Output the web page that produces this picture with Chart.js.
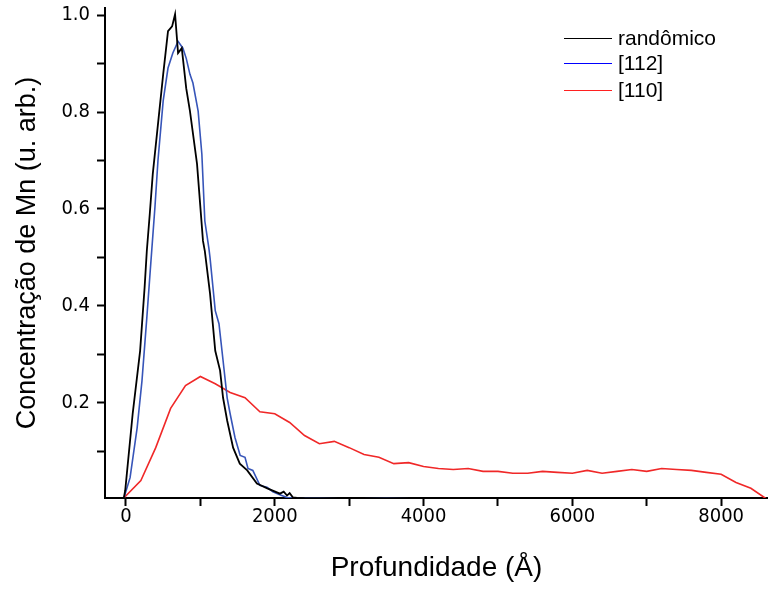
<!DOCTYPE html>
<html>
<head>
<meta charset="utf-8">
<style>
  body { margin: 0; background: #fff; }
  canvas { display: block; }
</style>
<script src="https://cdn.jsdelivr.net/npm/chart.js@4.4.0/dist/chart.umd.min.js"></script>
</head>
<body>
<canvas id="mnChart" width="768" height="590"></canvas>
<script>
// profundidade (Å) e concentração
const randomX = [-30, -10, 90, 190, 250, 280, 320, 360, 500, 565, 620, 660, 700, 750, 810, 860, 955, 1035, 1060, 1130,
  1200, 1265, 1305, 1360, 1440, 1530, 1630, 1760, 1900, 2070, 2120, 2165, 2200, 2245, 2300, 2400];
const randomY = [0.002, 0.019, 0.177, 0.307, 0.437, 0.513, 0.590, 0.672, 0.878, 0.967, 0.977, 1.002, 0.922, 0.932, 0.849, 0.802, 0.693, 0.534, 0.513, 0.425,
  0.307, 0.266, 0.210, 0.163, 0.107, 0.074, 0.060, 0.033, 0.023, 0.012, 0.016, 0.008, 0.013, 0.004, 0.003, 0.002];

const dir112X = [-30, 55, 150, 215, 280, 325, 390, 430, 500, 565, 630, 700, 765, 810, 860, 900, 970, 1020, 1060,
  1115, 1130, 1200, 1250, 1305, 1360, 1400, 1465, 1535, 1600, 1640, 1705, 1800, 1895, 1975, 2060, 2165, 2340, 2600, 3000,
  3500, 4000, 4400];
const dir112Y = [0.002, 0.045, 0.148, 0.245, 0.375, 0.470, 0.605, 0.700, 0.823, 0.891, 0.922, 0.946, 0.932, 0.911, 0.878, 0.860, 0.802, 0.713, 0.575,
  0.518, 0.499, 0.390, 0.363, 0.287, 0.210, 0.177, 0.128, 0.091, 0.087, 0.064, 0.060, 0.029, 0.025, 0.016, 0.010, 0.004, 0.002, 0.002, 0.001,
  0.002, 0.001, 0.001];

const dir110X = [-30, 200, 400, 600, 800, 1000, 1200, 1400, 1600, 1800, 2000, 2200, 2400, 2600, 2800, 3000, 3200, 3400, 3600, 3800,
  4000, 4200, 4400, 4600, 4800, 5000, 5200, 5400, 5600, 5800, 6000, 6200, 6400, 6600, 6800, 7000, 7200, 7400, 7600, 7800,
  8000, 8200, 8400, 8600];
const dir110Y = [0.003, 0.039, 0.107, 0.188, 0.235, 0.254, 0.239, 0.221, 0.210, 0.181, 0.177, 0.159, 0.132, 0.115, 0.120, 0.107, 0.093, 0.087, 0.074, 0.076,
  0.068, 0.064, 0.062, 0.064, 0.058, 0.058, 0.054, 0.054, 0.058, 0.056, 0.054, 0.060, 0.054, 0.058, 0.062, 0.058, 0.064, 0.062, 0.060, 0.056,
  0.052, 0.035, 0.023, 0.002];

const seriesLabels = ['randômico', '[112]', '[110]'];

// marcas dos eixos (só as de valor par levam rótulo)
const xTicks = [0, 1000, 2000, 3000, 4000, 5000, 6000, 7000, 8000];
const xTickLabels = ['0', '', '2000', '', '4000', '', '6000', '', '8000'];
const yTicks = [0.1, 0.2, 0.3, 0.4, 0.5, 0.6, 0.7, 0.8, 0.9, 1.0];
const yTickLabels = ['', '0.2', '', '0.4', '', '0.6', '', '0.8', '', '1.0'];

function toPoints(xs, ys) {
  return xs.map((x, i) => ({ x: x, y: ys[i] }));
}

const tickFont = { family: "'DejaVu Sans Condensed', 'DejaVu Sans', sans-serif", size: 20 };
const titleFont = { family: "'Liberation Sans', Arial, sans-serif", size: 27 };

// legenda desenhada no canto superior direito
const cornerLegend = {
  id: 'cornerLegend',
  afterDraw(chart) {
    const ctx = chart.ctx;
    const rows = [38, 63, 90];
    ctx.save();
    ctx.font = "21px 'Liberation Sans', Arial, sans-serif";
    ctx.textBaseline = 'middle';
    ctx.fillStyle = '#000';
    chart.data.datasets.forEach((ds, i) => {
      ctx.strokeStyle = ds.legendColor;
      ctx.lineWidth = 1;
      ctx.beginPath();
      ctx.moveTo(564, rows[i] + 0.5);
      ctx.lineTo(612, rows[i] + 0.5);
      ctx.stroke();
      ctx.fillText(ds.label, 618, rows[i] + 1);
    });
    ctx.restore();
  }
};

const ctx = document.getElementById('mnChart').getContext('2d');
new Chart(ctx, {
  type: 'line',
  data: {
    datasets: [
      { label: seriesLabels[0], data: toPoints(randomX, randomY), borderColor: '#000000', legendColor: '#000000', borderWidth: 1.8 },
      { label: seriesLabels[1], data: toPoints(dir112X, dir112Y), borderColor: 'rgb(55,85,185)', legendColor: '#0000ff', borderWidth: 1.6 },
      { label: seriesLabels[2], data: toPoints(dir110X, dir110Y), borderColor: 'rgb(240,40,40)', legendColor: '#ff2020', borderWidth: 1.6 }
    ]
  },
  options: {
    responsive: false,
    animation: false,
    layout: { padding: { top: 8, right: 0, left: 0, bottom: 0 } },
    elements: { point: { radius: 0 }, line: { tension: 0 } },
    plugins: { legend: { display: false }, tooltip: { enabled: false } },
    scales: {
      x: {
        type: 'linear',
        min: -282,
        max: 8630,
        grid: { drawOnChartArea: false, drawTicks: true, tickLength: 8, tickColor: '#000', tickWidth: 2 },
        border: { display: true, color: '#000', width: 2 },
        afterBuildTicks(scale) {
          scale.ticks = xTicks.map(v => ({ value: v }));
        },
        ticks: {
          autoSkip: false,
          maxRotation: 0,
          padding: -1,
          color: '#000',
          font: tickFont,
          callback: (v, i) => xTickLabels[i]
        },
        title: { display: true, text: 'Profundidade (Å)', color: '#000', font: { family: titleFont.family, size: 28 }, padding: { top: 0, bottom: 5 } },
        afterFit(scale) {
          scale.height = 92;
          scale.paddingLeft = 0;
          scale.paddingRight = 0;
        }
      },
      y: {
        min: 0.003,
        max: 1.015,
        grid: { drawOnChartArea: false, drawTicks: true, tickLength: 8, tickColor: '#000', tickWidth: 2 },
        border: { display: true, color: '#000', width: 2 },
        afterBuildTicks(scale) {
          scale.ticks = yTicks.map(v => ({ value: v }));
        },
        ticks: {
          autoSkip: false,
          padding: 7,
          color: '#000',
          font: tickFont,
          callback: (v, i) => yTickLabels[i]
        },
        title: { display: true, text: 'Concentração de Mn (u. arb.)', color: '#000', font: titleFont, padding: { top: 11, bottom: 0 } },
        afterFit(scale) {
          scale.width = 105;
          scale.paddingTop = 0;
          scale.paddingBottom = 0;
        }
      }
    }
  },
  plugins: [cornerLegend]
});
</script>
</body>
</html>
